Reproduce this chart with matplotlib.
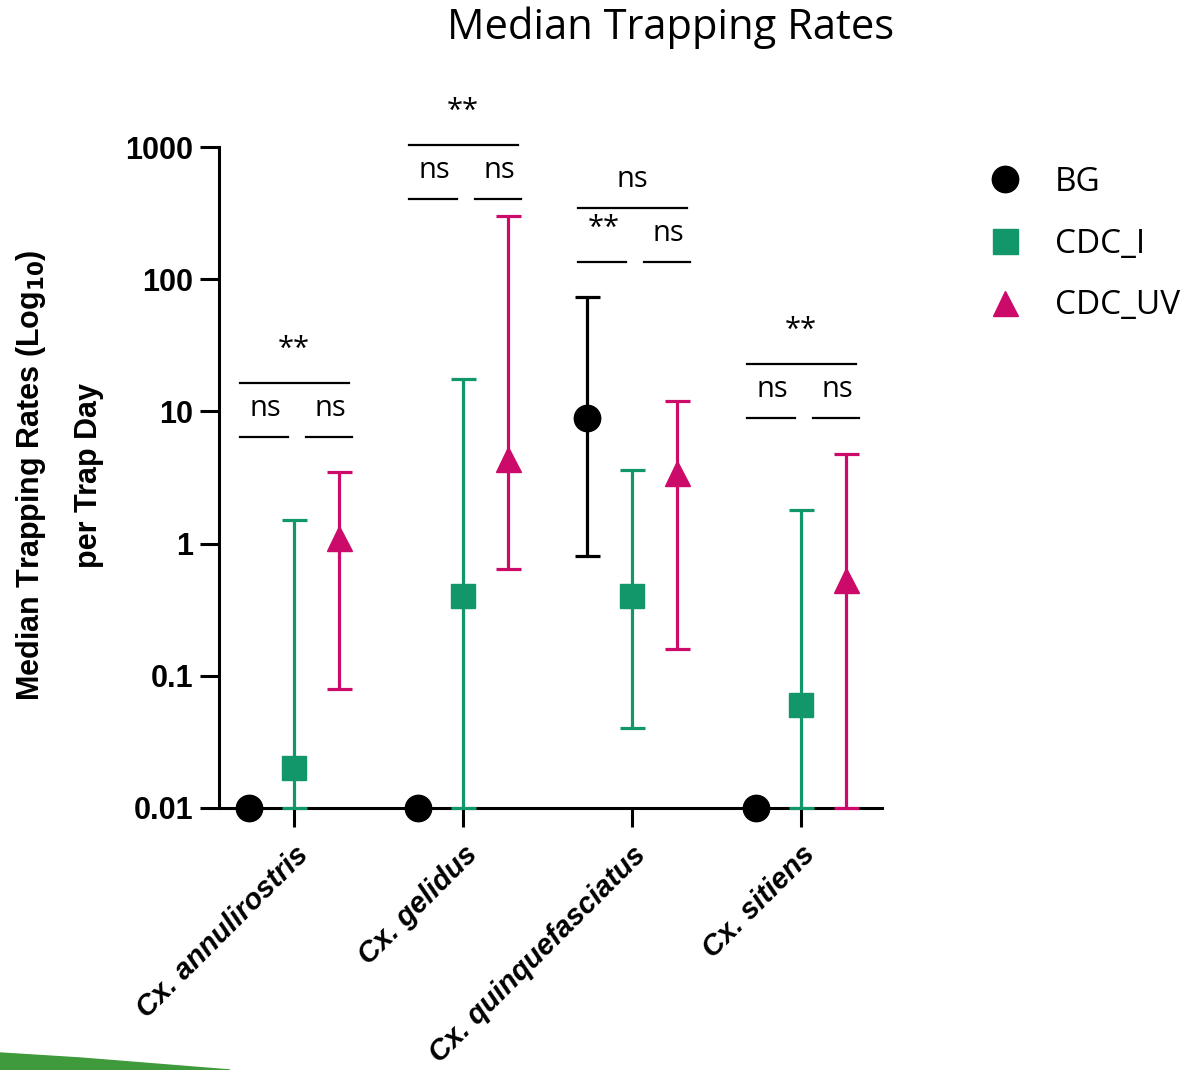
import numpy as np
import matplotlib
matplotlib.use('Agg')
import matplotlib.pyplot as plt
from matplotlib.lines import Line2D
from matplotlib.patches import Polygon

# data
species = ['Cx. annulirostris', 'Cx. gelidus', 'Cx. quinquefasciatus', 'Cx. sitiens']

bg_med = [0.01, 0.01, 8.9, 0.01]
bg_lo = [0.01, 0.01, 0.81, 0.01]
bg_hi = [0.01, 0.01, 73, 0.01]

cdci_med = [0.02, 0.4, 0.4, 0.06]
cdci_lo = [0.01, 0.01, 0.04, 0.01]
cdci_hi = [1.5, 17.6, 3.6, 1.8]

cdcuv_med = [1.1, 4.4, 3.4, 0.53]
cdcuv_lo = [0.08, 0.64, 0.16, 0.01]
cdcuv_hi = [3.5, 300, 12, 4.8]

# significance brackets: BG vs CDC_I, CDC_I vs CDC_UV, BG vs CDC_UV
sig_left = ['ns', 'ns', '**', 'ns']
sig_right = ['ns', 'ns', 'ns', 'ns']
sig_top = ['**', '**', 'ns', '**']
bracket_y = [6.4, 404, 135, 8.9]

ytick_vals = [0.01, 0.1, 1, 10, 100, 1000]
ytick_labels = ['0.01', '0.1', '1', '10', '100', '1000']

green = '#12976a'
magenta = '#cc0a6a'
axfont = 'Liberation Sans'
txtfont = 'Open Sans'

fig = plt.figure(figsize=(11.84, 10.70), dpi=100)
ax = fig.add_axes([219 / 1184, 0.2449, 663 / 1184, 0.6177])

x = np.arange(len(species))
off = 0.266

series = [
	(bg_med, bg_lo, bg_hi, 'o', 'black', -off, 19),
	(cdci_med, cdci_lo, cdci_hi, 's', green, 0, 17),
	(cdcuv_med, cdcuv_lo, cdcuv_hi, '^', magenta, off, 18),
]
for med, lo, hi, mk, col, dx, ms in series:
	med = np.array(med)
	err = [med - np.array(lo), np.array(hi) - med]
	cont = ax.errorbar(x + dx, med, yerr=err, fmt=mk, color=col, ms=ms,
					   elinewidth=2.3, capsize=9, capthick=2.3, zorder=3)
	for a in cont.get_children():
		a.set_clip_on(False)

ax.set_yscale('log')
ax.set_ylim(0.01, 1000)
ax.set_xlim(-0.444, 3.479)
ax.yaxis.set_major_locator(matplotlib.ticker.FixedLocator(ytick_vals))
ax.yaxis.set_major_formatter(matplotlib.ticker.FixedFormatter(ytick_labels))
ax.yaxis.set_minor_locator(matplotlib.ticker.NullLocator())
ax.set_xticks(x)
ax.set_xticklabels(species, rotation=45, ha='right', rotation_mode='anchor',
				   fontfamily=axfont, fontweight='bold', fontstyle='italic', fontsize=21)
for lab in ax.get_yticklabels():
	lab.set_fontfamily(axfont)
	lab.set_fontweight('bold')
	lab.set_fontsize(22)

ax.tick_params(axis='both', direction='out', length=13.5, width=2.2)
ax.tick_params(axis='y', pad=5)
ax.tick_params(axis='x', pad=10)
for s in ['top', 'right']:
	ax.spines[s].set_visible(False)
for s in ['left', 'bottom']:
	ax.spines[s].set_linewidth(2.2)

fig.text(59 / 1184, 1 - 475 / 1070,
		 'Median Trapping Rates (Log$_{\\mathbf{10}}$)\nper Trap Day',
		 rotation=90, ha='center', va='center', multialignment='center',
		 fontfamily=axfont, fontweight='bold', fontsize=22, linespacing=2.1)

# significance brackets
lw_b = 1.6
for i in range(len(species)):
	y0 = bracket_y[i]
	y1 = y0 * 10 ** 0.408
	ax.plot([i - 0.32, i - 0.036], [y0, y0], color='black', lw=lw_b, clip_on=False)
	ax.plot([i + 0.07, i + 0.343], [y0, y0], color='black', lw=lw_b, clip_on=False)
	ax.plot([i - 0.32, i + 0.325], [y1, y1], color='black', lw=lw_b, clip_on=False)
	for lab, xx, yy in [(sig_left[i], i - 0.17, y0), (sig_right[i], i + 0.213, y0), (sig_top[i], i, y1)]:
		dy = 14 if lab == '**' else 10
		ax.annotate(lab, xy=(xx, yy), xytext=(0, dy), textcoords='offset points',
					ha='center', va='bottom', fontsize=21, fontfamily=txtfont,
					annotation_clip=False)

fig.text(0.566, 0.974, 'Median Trapping Rates', ha='center', va='center',
		 fontsize=30, fontfamily=txtfont)

handles = [
	Line2D([], [], ls='none', marker='o', color='black', ms=19),
	Line2D([], [], ls='none', marker='s', color=green, ms=18),
	Line2D([], [], ls='none', marker='^', color=magenta, ms=18),
]
fig.legend(handles, ['BG', 'CDC_I', 'CDC_UV'], loc='upper left',
		   bbox_to_anchor=(0.8345, 0.8449), frameon=False, borderaxespad=0, borderpad=0,
		   handlelength=1, handletextpad=1.0, labelspacing=0.86,
		   prop={'family': txtfont, 'size': 24})

# green corner decoration
fig.patches.append(Polygon([(0, 0), (0, 17 / 1070), (80 / 1184, 12 / 1070), (230 / 1184, 0)],
						   closed=True, transform=fig.transFigure, color='#3e9a3a'))

fig.savefig('out.png', dpi=100)
